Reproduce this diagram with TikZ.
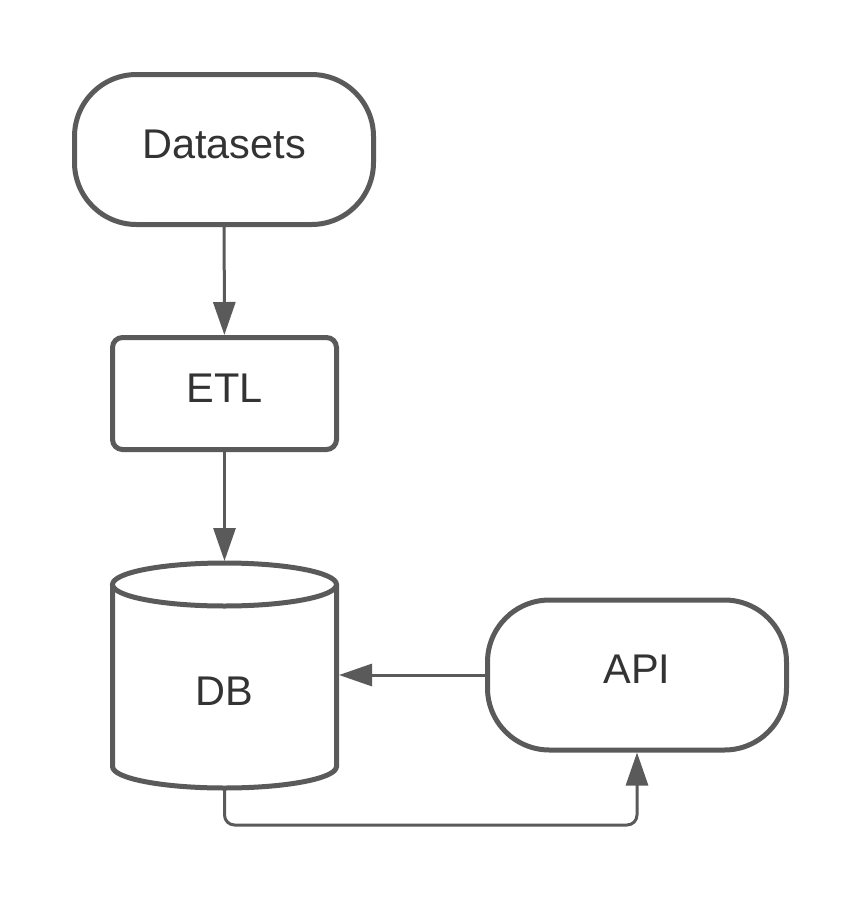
\documentclass[tikz,border=0pt]{standalone}
\usepackage{fontspec}
\setmainfont{Liberation Sans}
\usepackage{tikz}
\usetikzlibrary{arrows.meta}
\definecolor{linegray}{HTML}{5A5A5A}
\definecolor{textgray}{HTML}{333333}

\begin{document}
\begin{tikzpicture}[x=1pt,y=-1pt,
  term/.style={draw=linegray, line width=5pt, fill=white, rounded corners=62pt,
    minimum width=299pt, minimum height=150pt, text=textgray, text depth=11pt,
    font=\fontsize{41.5}{50}\selectfont},
  procbox/.style={draw=linegray, line width=5pt, fill=white, rounded corners=10pt,
    minimum width=224pt, minimum height=112pt, text=textgray, text depth=11pt,
    font=\fontsize{41.5}{50}\selectfont},
  dblabel/.style={text=textgray, font=\fontsize{41.5}{50}\selectfont},
  conn/.style={draw=linegray, line width=3pt,
    -{Triangle[length=33pt,width=22pt]}}]
\useasboundingbox (0,0) rectangle (863,900);

\draw[draw=linegray, line width=5pt, fill=white]
  (112.5,584.5) -- (112.5,766.5)
  arc[start angle=180, end angle=0, x radius=112, y radius=21.5]
  -- (336.5,584.5);
\draw[draw=linegray, line width=5pt, fill=white]
  (224.5,584.5) ellipse[x radius=112, y radius=21.5];

\node[term] (ds) at (224,149.5) {Datasets};
\node[procbox] (etl) at (224.5,393.5) {ETL};
\node[dblabel] (db) at (224.5,691) {DB};
\node[term] (api) at (637,675) {API};
\coordinate (dbT) at (224.5,561);
\coordinate (dbR) at (339,675);
\coordinate (dbB) at (224.5,789);
\coordinate (bend) at (224.5,825);

\path[]
(ds) edge[conn] (etl)
(etl.south) edge[conn] (dbT)
(api.west) edge[conn] (dbR)
;
\draw[conn, rounded corners=10pt] (dbB) -- (bend) -| (api.south);
\end{tikzpicture}
\end{document}
